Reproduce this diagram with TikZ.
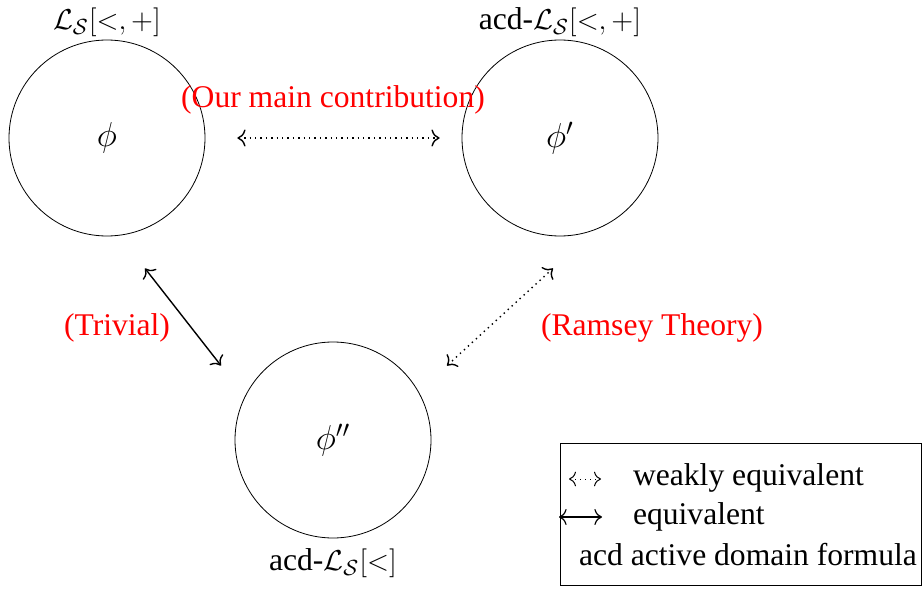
\documentclass[tikz,border=0pt]{standalone}
\usepackage[no-math]{fontspec}
\setmainfont{Liberation Serif}
\newfontfamily\timesfont{Liberation Serif}
\usetikzlibrary{positioning,arrows.meta}

\begin{document}
\begin{tikzpicture}[
        x=0.5pt, y=-0.5pt,
        font=\timesfont\fontsize{15.8}{19}\selectfont,
        formula/.style = {
            draw,
            circle,
            minimum size=98pt,
            inner sep=0pt,
            font=\timesfont\fontsize{17}{20}\selectfont},
        note/.style = {text=red},
        weak/.style = {dotted, line width=0.7pt, {To[scale=1.3]}-{To[scale=1.3]}},
        equiv/.style = {line width=0.7pt, {To[scale=1.3]}-{To[scale=1.3]}}
    ]
    \useasboundingbox (0,0) rectangle (923,589);
    \node[formula] (phi) at (107,138) {$\phi$};
    \node[formula] (phiP) at (560,138) {$\phi'$};
    \node[formula] (phiPP) at (333,440) {$\phi''$};
    \node[above=-2pt of phi] (lphi) {$\mathcal{L}_{\mathcal{S}}[<,+]$};
    \node[above=-2pt of phiP] (lphiP) {acd-$\mathcal{L}_{\mathcal{S}}[<,+]$};
    \node[below=1.5pt of phiPP] (lphiPP) {acd-$\mathcal{L}_{\mathcal{S}}[<]$};

    \draw[weak] ([xshift=16pt]phi.east) -- ([xshift=-11pt]phiP.west);
    \draw[equiv] ([shift={(19pt,-16pt)}]phi.south) -- ([shift={(-56pt,-12pt)}]phiPP.north);
    \draw[weak] ([shift={(57pt,-12pt)}]phiPP.north) -- ([shift={(-3.5pt,-16pt)}]phiP.south);

    \node[note] (main) at (333,100) {(Our main contribution)};
    \node[note] (triv) at (117,328) {(Trivial)};
    \node[note] (ramsey) at (652,328) {(Ramsey Theory)};

    % legend
    \draw (560,443) rectangle (921,585);
    \coordinate (wa) at (569,479);
    \coordinate (wb) at (601,479);
    \coordinate (ea) at (559,517);
    \coordinate (eb) at (602,517);
    \draw[weak, line width=0.5pt] (wa) -- (wb);
    \draw[equiv, line width=0.6pt] (ea) -- (eb);
    \node[anchor=west] (weq) at (626,478) {weakly equivalent};
    \node[anchor=west] (eq) at (626,517) {equivalent};
    \node[anchor=west] (acd) at (572,555) {acd active domain formula};
\end{tikzpicture}
\end{document}
